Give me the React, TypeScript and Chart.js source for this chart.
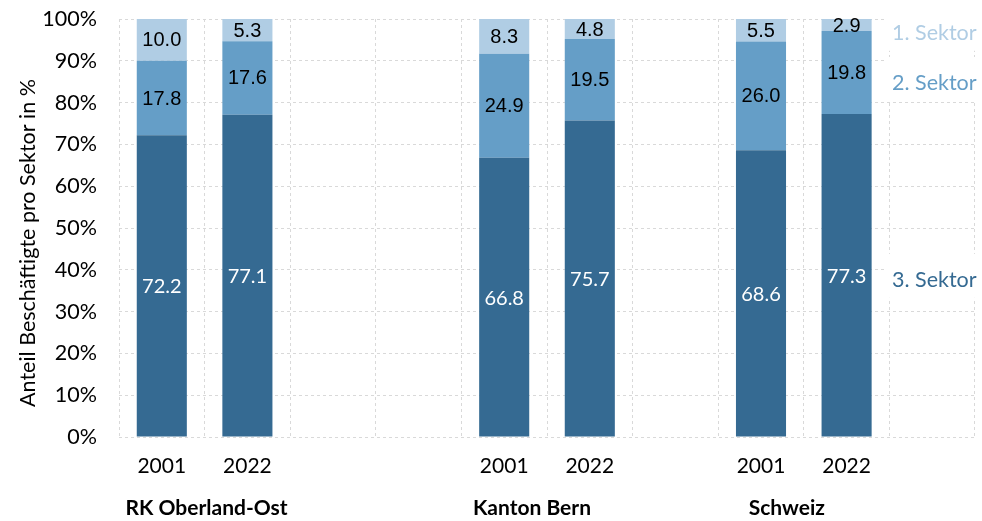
import React, { useEffect, useRef } from 'react';
import { Chart, registerables } from 'chart.js';

Chart.register(...registerables);

// ---- data ----
const CATEGORIES = ['2001', '2022', '', '', '2001', '2022', '', '2001', '2022', ''];
const SEKTOR3 = [72.2, 77.1, null, null, 66.8, 75.7, null, 68.6, 77.3, null];
const SEKTOR2 = [17.8, 17.6, null, null, 24.9, 19.5, null, 26.0, 19.8, null];
const SEKTOR1 = [10.0, 5.3, null, null, 8.3, 4.8, null, 5.5, 2.9, null];
const SERIES_NAMES = ['3. Sektor', '2. Sektor', '1. Sektor'];
const GROUP_NAMES = ['RK Oberland-Ost', 'Kanton Bern', 'Schweiz'];
const GROUP_SPANS = [[0, 1], [4, 5], [7, 8]];
const Y_TITLE = 'Anteil Beschäftigte pro Sektor in %';

// ---- styles / layout ----
const COLORS = ['#356a92', '#659ec7', '#b0cde4'];
const LABEL_COLORS = ['#ffffff', '#000000', '#000000'];
const LABEL_FONTS = ['20px Lato', '20px "Liberation Sans"', '20px "Liberation Sans"'];
const SERIES_LABEL_AT = [37.6, 84.7, 96.7];
const GROUP_OFFSETS = [2, -15, -17];
const GRID = '#d9d9d9';

const valueLabels = {
  id: 'valueLabels',
  afterDatasetsDraw(chart: any) {
    const ctx = chart.ctx;
    ctx.save();
    ctx.textAlign = 'center';
    ctx.textBaseline = 'middle';
    chart.data.datasets.forEach((ds: any, i: number) => {
      const meta = chart.getDatasetMeta(i);
      meta.data.forEach((bar: any, j: number) => {
        const v = ds.data[j];
        if (v == null) return;
        const p = bar.getProps(['x', 'y', 'base'], true);
        ctx.fillStyle = LABEL_COLORS[i];
        ctx.font = LABEL_FONTS[i];
        ctx.fillText(v.toFixed(1), p.x, (p.y + p.base) / 2 + 1);
      });
    });
    ctx.restore();
  },
};

const extraText = {
  id: 'extraText',
  afterDraw(chart: any) {
    const ctx = chart.ctx;
    const ys = chart.scales.y;
    const xs = chart.scales.x;
    const area = chart.chartArea;
    ctx.save();
    // series name labels on the right
    ctx.font = '21.5px Lato';
    ctx.textAlign = 'left';
    ctx.textBaseline = 'middle';
    SERIES_NAMES.forEach((name, i) => {
      const y = ys.getPixelForValue(SERIES_LABEL_AT[i]);
      ctx.fillStyle = '#ffffff';
      ctx.fillRect(area.right - 88, y - 26, 100, 44);
      ctx.fillStyle = COLORS[i];
      ctx.fillText(name, area.right - 83, y);
    });
    // group labels
    ctx.font = 'bold 21px Lato';
    ctx.textAlign = 'center';
    ctx.fillStyle = '#000000';
    GROUP_NAMES.forEach((g, i) => {
      const [a, b] = GROUP_SPANS[i];
      const x = (xs.getPixelForValue(a) + xs.getPixelForValue(b)) / 2 + GROUP_OFFSETS[i];
      ctx.fillText(g, x, area.bottom + 71);
    });
    // y axis title
    ctx.font = '21.5px Lato';
    ctx.textAlign = 'center';
    ctx.textBaseline = 'middle';
    ctx.translate(28, (area.top + area.bottom) / 2 + 15);
    ctx.rotate(-Math.PI / 2);
    ctx.fillText(Y_TITLE, 0, 0);
    ctx.restore();
  },
};

export default function App() {
  const ref = useRef<HTMLCanvasElement>(null);
  useEffect(() => {
    document.body.style.margin = '0';
    const chart = new Chart(ref.current!, {
      type: 'bar',
      data: {
        labels: CATEGORIES,
        datasets: [
          { label: SERIES_NAMES[0], data: SEKTOR3, backgroundColor: COLORS[0] },
          { label: SERIES_NAMES[1], data: SEKTOR2, backgroundColor: COLORS[1] },
          { label: SERIES_NAMES[2], data: SEKTOR1, backgroundColor: COLORS[2] },
        ] as any,
      },
      options: {
        animation: false,
        responsive: false,
        layout: { padding: { top: 19, right: 7, left: 13, bottom: 0 } },
        datasets: { bar: { categoryPercentage: 1, barPercentage: 0.585 } } as any,
        plugins: { legend: { display: false }, tooltip: { enabled: false } },
        scales: {
          x: {
            stacked: true,
            border: { display: false, dash: [3, 3] },
            grid: { color: GRID, offset: true, drawTicks: false },
            ticks: { color: '#000', font: { family: 'Lato', size: 21 }, padding: 17, maxRotation: 0, autoSkip: false },
            afterFit: (s: any) => { s.height = 84; },
          },
          y: {
            stacked: true,
            min: 0,
            max: 100,
            border: { display: false, dash: [3, 3] },
            grid: { color: GRID, drawTicks: true, tickLength: 20, tickColor: 'rgba(0,0,0,0)' },
            ticks: {
              stepSize: 10,
              color: '#000',
              font: { family: 'Lato', size: 21.5 },
              padding: 2,
              callback: (v: any) => v + '%',
            },
            afterFit: (s: any) => { s.width = 106; },
          },
        },
      },
      plugins: [valueLabels, extraText],
    });
    return () => chart.destroy();
  }, []);
  return (
    <div style={{ width: 982, height: 521 }}>
      <canvas ref={ref} width={982} height={521} />
    </div>
  );
}
